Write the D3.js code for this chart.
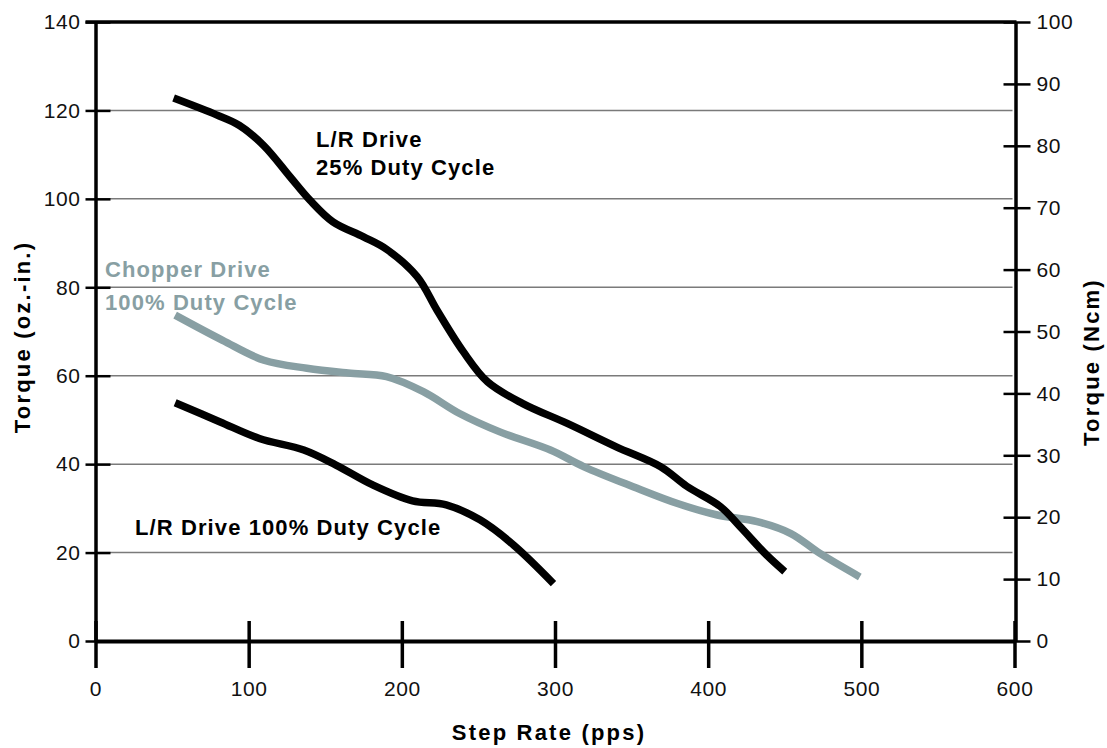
<!DOCTYPE html>
<html>
<head>
<meta charset="utf-8">
<script src="https://cdn.jsdelivr.net/npm/d3@7.9.0/dist/d3.min.js"></script>
<style>
  html, body { margin: 0; padding: 0; background: #fff; }
  svg { display: block; font-family: "Liberation Sans", Arial, Helvetica, sans-serif; }
</style>
</head>
<body>
<svg id="chart" width="1107" height="748"></svg>
<script>
// ---------- Data ----------
const xTicks = [0, 100, 200, 300, 400, 500, 600];
const yTicksOz = [0, 20, 40, 60, 80, 100, 120, 140];
const yTicksNcm = [0, 10, 20, 30, 40, 50, 60, 70, 80, 90, 100];

// L/R Drive, 25% duty cycle [pps, oz-in]
const lr25 = [
  [51, 122.8], [79, 119], [94, 116.6], [110, 112], [127, 105], [140, 99.7],
  [155, 94.8], [175, 91.4], [190, 88.6], [210, 82.4], [223, 74.8], [240, 65.5],
  [256, 58.6], [279, 53.7], [308, 49.2], [340, 43.9], [369, 39.4], [386, 35],
  [408, 30.4], [421, 25.8], [438, 19.5], [450, 15.7]
];

// Chopper Drive, 100% duty cycle
const chopper = [
  [52, 73.7], [83, 68], [110, 63.5], [138, 61.7], [165, 60.6], [190, 59.8],
  [214, 56.4], [238, 51.4], [264, 47.3], [297, 43.2], [319, 39.4], [351, 34.9],
  [380, 31.1], [406, 28.5], [432, 27], [454, 24.3], [473, 19.8], [499, 14.5]
];

// L/R Drive, 100% duty cycle
const lr100 = [
  [52, 53.9], [81, 49.6], [107, 45.8], [136, 43.2], [157, 39.8], [181, 35.3],
  [207, 31.7], [229, 30.8], [251, 27.4], [273, 21.7], [299, 13]
];

const seriesColors = { black: '#000', gray: '#889fa3' };

// ---------- Layout ----------
const svg = d3.select('#chart');
const x = d3.scaleLinear().domain([0, 600]).range([95.5, 1014.5]);
const yOz = d3.scaleLinear().domain([0, 140]).range([641, 22]);
const yNcm = d3.scaleLinear().domain([0, 100]).range([641, 22]);

// gridlines
svg.append('g')
  .selectAll('line')
  .data(yTicksOz.filter((d) => d > 0 && d < 140))
  .join('line')
  .attr('x1', x(0)).attr('x2', x(600) - 2)
  .attr('y1', (d) => yOz(d)).attr('y2', (d) => yOz(d))
  .attr('stroke', '#7a7a7a').attr('stroke-width', 1.5);

// top border
svg.append('line')
  .attr('x1', x(0) - 10).attr('x2', x(600) + 2)
  .attr('y1', yOz(140)).attr('y2', yOz(140))
  .attr('stroke', '#000').attr('stroke-width', 3.5);

// left axis
const leftAxis = svg.append('g')
  .attr('transform', `translate(${x(0)},0)`)
  .call(d3.axisLeft(yOz).tickValues(yTicksOz).tickSizeInner(10).tickSizeOuter(0).tickPadding(5));
leftAxis.select('.domain').attr('stroke-width', 3.5);
leftAxis.selectAll('.tick line').attr('x2', 15).attr('x1', -10).attr('stroke-width', 2.5);

// right axis
const rightAxis = svg.append('g')
  .attr('transform', `translate(${x(600) + 1},0)`)
  .call(d3.axisRight(yNcm).tickValues(yTicksNcm).tickSizeInner(14).tickSizeOuter(0).tickPadding(7));
rightAxis.select('.domain').attr('stroke-width', 3.5);
rightAxis.selectAll('.tick line').attr('x1', -12).attr('x2', 15).attr('stroke-width', 2.5);

// bottom axis
const bottomAxis = svg.append('g')
  .attr('transform', `translate(0,${yOz(0)})`)
  .call(d3.axisBottom(x).tickValues(xTicks).tickSizeInner(27).tickSizeOuter(0).tickPadding(13));
bottomAxis.select('.domain').attr('stroke-width', 4);
bottomAxis.selectAll('.tick line').attr('y1', -20).attr('stroke-width', 3.5);

svg.selectAll('.tick text')
  .attr('font-size', 21)
  .attr('letter-spacing', 0.6)
  .attr('font-family', '"Liberation Sans", Arial, sans-serif')
  .attr('fill', '#111');
svg.selectAll('.tick line, .domain').attr('stroke', '#000');

// ---------- Curves ----------
const line = d3.line()
  .x((d) => x(d[0]))
  .y((d) => yOz(d[1]))
  .curve(d3.curveCatmullRom.alpha(0.5));

const curves = [
  { data: chopper, color: seriesColors.gray },
  { data: lr100, color: seriesColors.black },
  { data: lr25, color: seriesColors.black },
];

svg.append('g')
  .selectAll('path')
  .data(curves)
  .join('path')
  .attr('d', (d) => line(d.data))
  .attr('fill', 'none')
  .attr('stroke', (d) => d.color)
  .attr('stroke-width', 7.5);

// ---------- Labels ----------
const labels = [
  { text: 'L/R Drive', x: 316, y: 147, color: seriesColors.black },
  { text: '25% Duty Cycle', x: 316, y: 175, color: seriesColors.black },
  { text: 'Chopper Drive', x: 105, y: 277, color: seriesColors.gray },
  { text: '100% Duty Cycle', x: 105, y: 310, color: seriesColors.gray },
  { text: 'L/R Drive 100% Duty Cycle', x: 135, y: 535, color: seriesColors.black },
];
svg.append('g')
  .selectAll('text')
  .data(labels)
  .join('text')
  .attr('x', (d) => d.x)
  .attr('y', (d) => d.y)
  .attr('fill', (d) => d.color)
  .attr('font-size', 22)
  .attr('font-weight', 'bold')
  .attr('letter-spacing', 1.1)
  .text((d) => d.text);

// axis titles
const titleFont = { size: 22, spacing: 2.2 };

svg.append('text')
  .attr('x', 549).attr('y', 740)
  .attr('text-anchor', 'middle')
  .attr('font-size', titleFont.size).attr('font-weight', 'bold').attr('letter-spacing', titleFont.spacing)
  .text('Step Rate (pps)');

svg.append('text')
  .attr('transform', 'translate(30,337) rotate(-90)')
  .attr('text-anchor', 'middle')
  .attr('font-size', titleFont.size).attr('font-weight', 'bold').attr('letter-spacing', titleFont.spacing)
  .text('Torque (oz.-in.)');

svg.append('text')
  .attr('transform', 'translate(1099,362) rotate(-90)')
  .attr('text-anchor', 'middle')
  .attr('font-size', titleFont.size).attr('font-weight', 'bold').attr('letter-spacing', titleFont.spacing)
  .text('Torque (Ncm)');
</script>
</body>
</html>
